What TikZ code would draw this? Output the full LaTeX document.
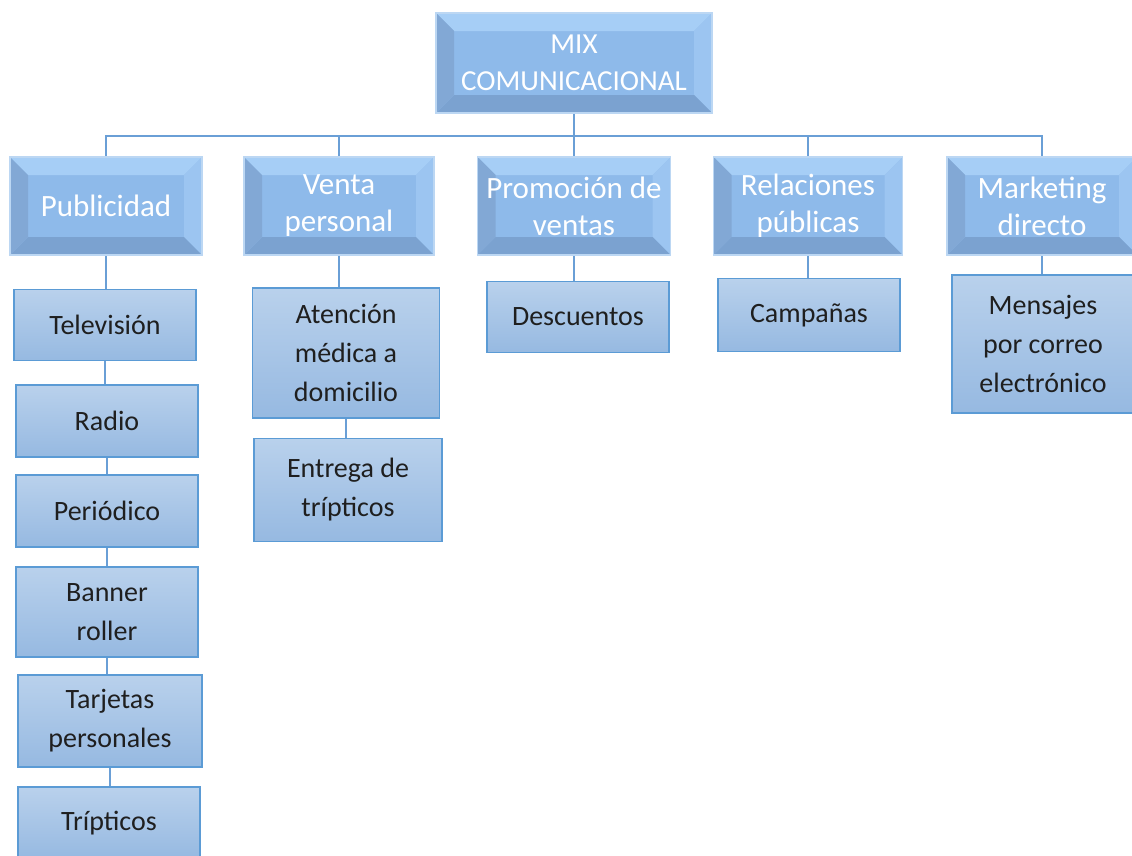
\documentclass[tikz,border=0pt]{standalone}
\usepackage{fontspec}
\setmainfont{Carlito}
\usepackage{tikz}
\usetikzlibrary{backgrounds}

\definecolor{catface}{HTML}{8EBAEA}
\definecolor{catrim}{HTML}{BCD7F3}
\definecolor{bevtop}{HTML}{A6CEF6}
\definecolor{bevright}{HTML}{9CC5F1}
\definecolor{bevbottom}{HTML}{7BA2D0}
\definecolor{bevleft}{HTML}{82A8D5}
\definecolor{leaftop}{HTML}{B9D1EC}
\definecolor{leafbot}{HTML}{96B9E1}
\definecolor{leafrim}{HTML}{5B9BD5}
\definecolor{linkcol}{HTML}{6A9FD6}

\newcommand{\bevw}{18pt}

\tikzset{
  bevelled/.style={fill=catface, draw=catrim, line width=1.2pt, text=white,
    align=center, inner sep=0pt,
    path picture={
      \path (path picture bounding box.north west) coordinate (nw)
            (path picture bounding box.south east) coordinate (se);
      \fill[bevtop] (nw) -- (nw -| se) -- ([shift={(-\bevw,-\bevw)}]nw -| se)
        -- ([shift={(\bevw,-\bevw)}]nw) -- cycle;
      \fill[bevright] (nw -| se) -- (se) -- ([shift={(-\bevw,\bevw)}]se)
        -- ([shift={(-\bevw,-\bevw)}]nw -| se) -- cycle;
      \fill[bevbottom] (se) -- (nw |- se) -- ([shift={(\bevw,\bevw)}]nw |- se)
        -- ([shift={(-\bevw,\bevw)}]se) -- cycle;
      \fill[bevleft] (nw |- se) -- (nw) -- ([shift={(\bevw,-\bevw)}]nw)
        -- ([shift={(\bevw,\bevw)}]nw |- se) -- cycle;
    }},
  topbox/.style={bevelled, minimum width=276pt, minimum height=100pt,
    font=\fontsize{29}{37}\selectfont},
  catbox/.style={bevelled, minimum width=190pt, minimum height=98pt,
    font=\fontsize{31}{37}\selectfont},
  leaf/.style={draw=leafrim, line width=1.3pt, top color=leaftop, bottom color=leafbot,
    text=black!88, align=center, inner sep=0pt, minimum width=182pt,
    font=\fontsize{28}{39}\selectfont},
  link/.style={draw=linkcol, line width=1.8pt},
}

\begin{document}
\begin{tikzpicture}[x=1pt, y=-1pt]
    \useasboundingbox (0,0) rectangle (1132,855);
    \clip (0,0) rectangle (1132,855);

    % Top of the chart
    \node[topbox] (mix) at (574,63) {MIX\\COMUNICACIONAL};

    % The five tools
    \node[catbox, minimum width=192pt] (publ) at (106,206) {Publicidad};
    \node[catbox] (venta) at (339,206) {Venta\\personal};
    \node[catbox, minimum width=193pt] (promo) at (574,206) {Promoción de\\ventas};
    \node[catbox, minimum width=189pt] (rel) at (808,206) {Relaciones\\públicas};
    \node[catbox] (mkt) at (1042,206) {Marketing\\directo};

    % Publicidad
    \node[leaf, minimum height=71pt] (tv) at (105,325) {Televisión};
    \node[leaf, minimum height=72pt] (radio) at (107,421) {Radio};
    \node[leaf, minimum height=72pt] (perio) at (107,511) {Periódico};
    \node[leaf, minimum height=90pt] (banner) at (107,612) {Banner\\roller};
    \node[leaf, minimum height=92pt, minimum width=184pt] (tarj) at (110,721) {Tarjetas\\personales};
    \node[leaf, minimum height=72pt] (tript) at (109,823) {Trípticos};

    % Venta personal
    \node[leaf, minimum height=130pt, minimum width=187pt] (atenc) at (346,353) {Atención\\médica a\\domicilio};
    \node[leaf, minimum height=103pt, minimum width=188pt] (entrega) at (348,490) {Entrega de\\trípticos};

    % Promocion, relaciones, marketing
    \node[leaf, minimum height=71pt] (desc) at (578,317) {Descuentos};
    \node[leaf, minimum height=73pt] (camp) at (809,315) {Campañas};
    \node[leaf, minimum height=138pt] (mens) at (1043,344) {Mensajes\\por correo\\electrónico};

    % Connectors behind the boxes
    \begin{scope}[on background layer]
    \coordinate (bus) at (574,136);
    \foreach \c in {publ,venta,promo,rel,mkt}
        \draw[link] (\c.north) -- (\c.north |- bus) -| (mix.south);
    \draw[link] (publ.south) -- (publ.south |- tv.north);
    \draw[link] (tv.south) -- (tv.south |- radio.north);
    \draw[link] (radio.south) -- (radio.south |- perio.north);
    \draw[link] (perio.south) -- (perio.south |- banner.north);
    \draw[link] (banner.south) -- (banner.south |- tarj.north);
    \draw[link] (tarj.south) -- (tarj.south |- tript.north);
    \draw[link] (venta.south) -- (venta.south |- atenc.north);
    \draw[link] (atenc.south) -- (atenc.south |- entrega.north);
    \draw[link] (promo.south) -- (promo.south |- desc.north);
    \draw[link] (rel.south) -- (rel.south |- camp.north);
    \draw[link] (mkt.south) -- (mkt.south |- mens.north);
    \end{scope}
\end{tikzpicture}
\end{document}
